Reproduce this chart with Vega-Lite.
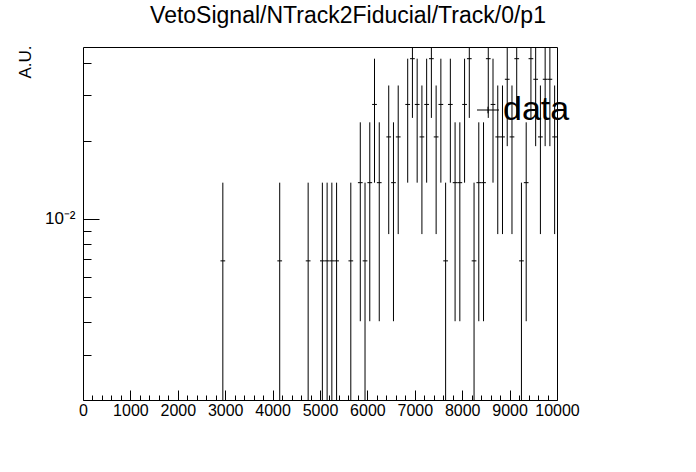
{
  "$schema": "https://vega.github.io/schema/vega-lite/v6.json",
  "autosize": "none",
  "width": 474,
  "height": 353,
  "padding": {"left": 83, "top": 47, "right": 139, "bottom": 72},
  "background": "white",
  "title": {
    "text": "VetoSignal/NTrack2Fiducial/Track/0/p1",
    "font": "Liberation Sans",
    "fontSize": 23,
    "fontWeight": "normal",
    "color": "black",
    "anchor": "middle",
    "baseline": "alphabetic",
    "dx": 28,
    "offset": -1
  },
  "config": {
    "view": {"stroke": "black", "strokeWidth": 1},
    "axis": {
      "domain": false,
      "grid": false,
      "tickColor": "black",
      "tickWidth": 1,
      "labelColor": "black",
      "labelFont": "Liberation Sans",
      "titleFont": "Liberation Sans",
      "titleColor": "black",
      "titleFontWeight": "normal"
    }
  },
  "data": {
    "values": [
      {"bin_start": 2900, "bin_end": 3000, "center": 2950, "value": 0.006897, "lo": 0, "hi": 0.013793, "series": "data"},
      {"bin_start": 4100, "bin_end": 4200, "center": 4150, "value": 0.006897, "lo": 0, "hi": 0.013793, "series": "data"},
      {"bin_start": 4700, "bin_end": 4800, "center": 4750, "value": 0.006897, "lo": 0, "hi": 0.013793, "series": "data"},
      {"bin_start": 5000, "bin_end": 5100, "center": 5050, "value": 0.006897, "lo": 0, "hi": 0.013793, "series": "data"},
      {"bin_start": 5100, "bin_end": 5200, "center": 5150, "value": 0.006897, "lo": 0, "hi": 0.013793, "series": "data"},
      {"bin_start": 5200, "bin_end": 5300, "center": 5250, "value": 0.006897, "lo": 0, "hi": 0.013793, "series": "data"},
      {"bin_start": 5300, "bin_end": 5400, "center": 5350, "value": 0.006897, "lo": 0, "hi": 0.013793, "series": "data"},
      {"bin_start": 5600, "bin_end": 5700, "center": 5650, "value": 0.006897, "lo": 0, "hi": 0.013793, "series": "data"},
      {"bin_start": 5800, "bin_end": 5900, "center": 5850, "value": 0.013793, "lo": 0.00404, "hi": 0.023546, "series": "data"},
      {"bin_start": 5900, "bin_end": 6000, "center": 5950, "value": 0.006897, "lo": 0, "hi": 0.013793, "series": "data"},
      {"bin_start": 6000, "bin_end": 6100, "center": 6050, "value": 0.013793, "lo": 0.00404, "hi": 0.023546, "series": "data"},
      {"bin_start": 6100, "bin_end": 6200, "center": 6150, "value": 0.027586, "lo": 0.013793, "hi": 0.041379, "series": "data"},
      {"bin_start": 6200, "bin_end": 6300, "center": 6250, "value": 0.013793, "lo": 0.00404, "hi": 0.023546, "series": "data"},
      {"bin_start": 6400, "bin_end": 6500, "center": 6450, "value": 0.02069, "lo": 0.008745, "hi": 0.032635, "series": "data"},
      {"bin_start": 6500, "bin_end": 6600, "center": 6550, "value": 0.013793, "lo": 0.00404, "hi": 0.023546, "series": "data"},
      {"bin_start": 6600, "bin_end": 6700, "center": 6650, "value": 0.02069, "lo": 0.008745, "hi": 0.032635, "series": "data"},
      {"bin_start": 6800, "bin_end": 6900, "center": 6850, "value": 0.027586, "lo": 0.013793, "hi": 0.041379, "series": "data"},
      {"bin_start": 6900, "bin_end": 7000, "center": 6950, "value": 0.041379, "lo": 0.024486, "hi": 0.058272, "series": "data"},
      {"bin_start": 7000, "bin_end": 7100, "center": 7050, "value": 0.027586, "lo": 0.013793, "hi": 0.041379, "series": "data"},
      {"bin_start": 7100, "bin_end": 7200, "center": 7150, "value": 0.02069, "lo": 0.008745, "hi": 0.032635, "series": "data"},
      {"bin_start": 7200, "bin_end": 7300, "center": 7250, "value": 0.027586, "lo": 0.013793, "hi": 0.041379, "series": "data"},
      {"bin_start": 7300, "bin_end": 7400, "center": 7350, "value": 0.041379, "lo": 0.024486, "hi": 0.058272, "series": "data"},
      {"bin_start": 7400, "bin_end": 7500, "center": 7450, "value": 0.02069, "lo": 0.008745, "hi": 0.032635, "series": "data"},
      {"bin_start": 7500, "bin_end": 7600, "center": 7550, "value": 0.027586, "lo": 0.013793, "hi": 0.041379, "series": "data"},
      {"bin_start": 7600, "bin_end": 7700, "center": 7650, "value": 0.006897, "lo": 0, "hi": 0.013793, "series": "data"},
      {"bin_start": 7700, "bin_end": 7800, "center": 7750, "value": 0.027586, "lo": 0.013793, "hi": 0.041379, "series": "data"},
      {"bin_start": 7800, "bin_end": 7900, "center": 7850, "value": 0.013793, "lo": 0.00404, "hi": 0.023546, "series": "data"},
      {"bin_start": 7900, "bin_end": 8000, "center": 7950, "value": 0.013793, "lo": 0.00404, "hi": 0.023546, "series": "data"},
      {"bin_start": 8000, "bin_end": 8100, "center": 8050, "value": 0.027586, "lo": 0.013793, "hi": 0.041379, "series": "data"},
      {"bin_start": 8100, "bin_end": 8200, "center": 8150, "value": 0.041379, "lo": 0.024486, "hi": 0.058272, "series": "data"},
      {"bin_start": 8200, "bin_end": 8300, "center": 8250, "value": 0.006897, "lo": 0, "hi": 0.013793, "series": "data"},
      {"bin_start": 8300, "bin_end": 8400, "center": 8350, "value": 0.013793, "lo": 0.00404, "hi": 0.023546, "series": "data"},
      {"bin_start": 8400, "bin_end": 8500, "center": 8450, "value": 0.013793, "lo": 0.00404, "hi": 0.023546, "series": "data"},
      {"bin_start": 8500, "bin_end": 8600, "center": 8550, "value": 0.041379, "lo": 0.024486, "hi": 0.058272, "series": "data"},
      {"bin_start": 8600, "bin_end": 8700, "center": 8650, "value": 0.027586, "lo": 0.013793, "hi": 0.041379, "series": "data"},
      {"bin_start": 8700, "bin_end": 8800, "center": 8750, "value": 0.02069, "lo": 0.008745, "hi": 0.032635, "series": "data"},
      {"bin_start": 8800, "bin_end": 8900, "center": 8850, "value": 0.02069, "lo": 0.008745, "hi": 0.032635, "series": "data"},
      {"bin_start": 8900, "bin_end": 9000, "center": 8950, "value": 0.034483, "lo": 0.019062, "hi": 0.049904, "series": "data"},
      {"bin_start": 9000, "bin_end": 9100, "center": 9050, "value": 0.02069, "lo": 0.008745, "hi": 0.032635, "series": "data"},
      {"bin_start": 9100, "bin_end": 9200, "center": 9150, "value": 0.041379, "lo": 0.024486, "hi": 0.058272, "series": "data"},
      {"bin_start": 9200, "bin_end": 9300, "center": 9250, "value": 0.006897, "lo": 0, "hi": 0.013793, "series": "data"},
      {"bin_start": 9300, "bin_end": 9400, "center": 9350, "value": 0.013793, "lo": 0.00404, "hi": 0.023546, "series": "data"},
      {"bin_start": 9400, "bin_end": 9500, "center": 9450, "value": 0.041379, "lo": 0.024486, "hi": 0.058272, "series": "data"},
      {"bin_start": 9500, "bin_end": 9600, "center": 9550, "value": 0.034483, "lo": 0.019062, "hi": 0.049904, "series": "data"},
      {"bin_start": 9600, "bin_end": 9700, "center": 9650, "value": 0.02069, "lo": 0.008745, "hi": 0.032635, "series": "data"},
      {"bin_start": 9700, "bin_end": 9800, "center": 9750, "value": 0.034483, "lo": 0.019062, "hi": 0.049904, "series": "data"},
      {"bin_start": 9800, "bin_end": 9900, "center": 9850, "value": 0.034483, "lo": 0.019062, "hi": 0.049904, "series": "data"},
      {"bin_start": 9900, "bin_end": 10000, "center": 9950, "value": 0.02069, "lo": 0.008745, "hi": 0.032635, "series": "data"}
    ]
  },
  "resolve": {"axis": {"x": "independent", "y": "independent"}},
  "layer": [
    {
      "mark": {"type": "rule", "strokeWidth": 1, "clip": true},
      "encoding": {
        "x": {
          "field": "bin_start",
          "type": "quantitative",
          "scale": {"domain": [0, 10000], "nice": false, "zero": false},
          "axis": {
            "orient": "bottom",
            "values": [0, 1000, 2000, 3000, 4000, 5000, 6000, 7000, 8000, 9000, 10000],
            "tickSize": -10,
            "labelFontSize": 16,
            "labelPadding": 12,
            "labelFlush": false,
            "labelOverlap": false,
            "format": "d",
            "title": null
          }
        },
        "x2": {"field": "bin_end"},
        "y": {
          "field": "value",
          "type": "quantitative",
          "scale": {"type": "log", "domain": [0.00201, 0.0459], "nice": false, "clamp": true},
          "axis": {
            "orient": "left",
            "values": [0.01],
            "tickSize": -16,
            "labelExpr": "'10⁻²'",
            "labelFontSize": 17,
            "labelPadding": 24,
            "title": "A.U.",
            "titleFontSize": 17,
            "titleAnchor": "end",
            "titleAngle": -90,
            "titleAlign": "right",
            "titleBaseline": "alphabetic",
            "titleX": -53,
            "titleY": -2
          }
        },
        "stroke": {
          "field": "series",
          "type": "nominal",
          "scale": {"range": ["black"]},
          "legend": {
            "title": null,
            "orient": "none",
            "legendX": 388,
            "legendY": 46,
            "padding": 0,
            "symbolType": "M-1,0H1M0,-0.3V0.3",
            "symbolSize": 484,
            "symbolStrokeWidth": 1,
            "symbolStrokeColor": "black",
            "symbolFillColor": "transparent",
            "labelFont": "Liberation Sans",
            "labelFontSize": 34,
            "labelColor": "black",
            "labelOffset": -2
          }
        }
      }
    },
    {
      "mark": {"type": "rule", "strokeWidth": 1, "color": "black", "clip": true},
      "encoding": {
        "x": {
          "field": "center",
          "type": "quantitative",
          "scale": {"domain": [0, 10000], "nice": false, "zero": false},
          "axis": {
            "orient": "bottom",
            "values": [200, 400, 600, 800, 1200, 1400, 1600, 1800, 2200, 2400, 2600, 2800, 3200, 3400, 3600, 3800, 4200, 4400, 4600, 4800, 5200, 5400, 5600, 5800, 6200, 6400, 6600, 6800, 7200, 7400, 7600, 7800, 8200, 8400, 8600, 8800, 9200, 9400, 9600, 9800],
            "tickSize": -5,
            "labels": false,
            "title": null
          }
        },
        "y": {
          "field": "hi",
          "type": "quantitative",
          "scale": {"type": "log", "domain": [0.00201, 0.0459], "nice": false, "clamp": true},
          "axis": {
            "orient": "left",
            "values": [0.003, 0.004, 0.005, 0.006, 0.007, 0.008, 0.009, 0.02, 0.03, 0.04],
            "tickSize": -8,
            "labels": false,
            "title": null
          }
        },
        "y2": {"field": "lo"}
      }
    }
  ]
}
